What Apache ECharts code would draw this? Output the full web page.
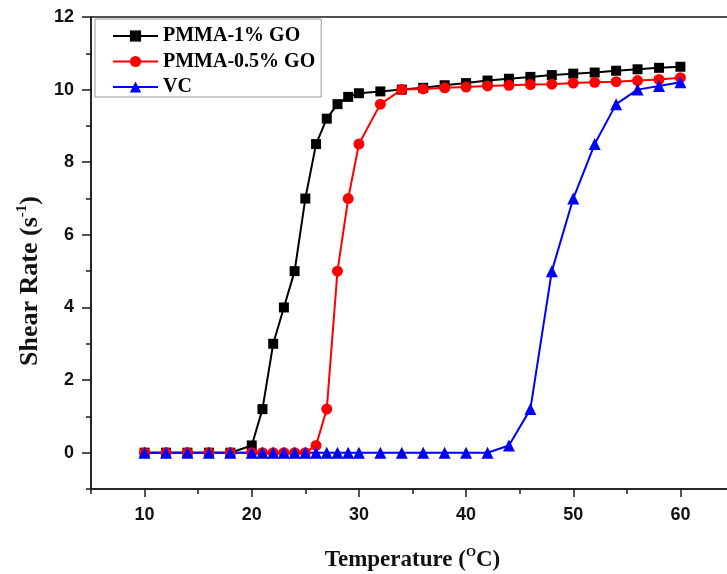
<!DOCTYPE html>
<html>
<head>
<meta charset="utf-8">
<script src="https://cdn.jsdelivr.net/npm/echarts@6/dist/echarts.min.js"></script>
<style>
html,body{margin:0;padding:0;background:#fff;}
#chart{width:727px;height:574px;}
</style>
</head>
<body>
<div id="chart"></div>
<script>
// Data
var temperature = [10,12,14,16,18,20,21,22,23,24,25,26,27,28,29,30,32,34,36,38,40,42,44,46,48,50,52,54,56,58,60];
var pmma1GO = [0,0,0,0,0,0.2,1.2,3,4,5,7,8.5,9.2,9.6,9.8,9.9,9.95,10,10.05,10.12,10.18,10.25,10.3,10.35,10.4,10.44,10.47,10.52,10.56,10.6,10.63];
var pmma05GO = [0,0,0,0,0,0,0,0,0,0,0,0.2,1.2,5,7,8.5,9.6,10,10.02,10.05,10.07,10.1,10.12,10.14,10.15,10.18,10.2,10.22,10.25,10.28,10.33];
var vc = [0,0,0,0,0,0,0,0,0,0,0,0,0,0,0,0,0,0,0,0,0,0,0.2,1.2,5,7,8.5,9.6,10,10.1,10.2];
var seriesNames = ['PMMA-1% GO','PMMA-0.5% GO','VC'];
var xLabels = [10,20,30,40,50,60];
var xMinorTicks = [5,15,25,35,45,55,65];
var yLabels = [0,2,4,6,8,10,12];
var yMinorTicks = [-1,1,3,5,7,9,11];

function pairs(ys){ return temperature.map(function(t,i){ return [t, ys[i]]; }); }

var sans = 'Liberation Sans, Arial, sans-serif';
var serif = 'Liberation Serif, Times New Roman, serif';
var axisColor = '#1a1a1a';

var chart = echarts.init(document.getElementById('chart'), null, {renderer:'canvas'});
chart.setOption({
  animation: false,
  backgroundColor: '#fff',
  grid: {left: 91, top: 17, right: -7, bottom: 85, containLabel: false, outerBoundsMode: 'none',
         show: true, borderColor: axisColor, borderWidth: 1.5, backgroundColor: 'transparent'},
  legend: {
    orient: 'vertical', left: 95, top: 19,
    data: seriesNames,
    itemWidth: 45, itemHeight: 14, itemGap: 5.5,
    padding: [7, 6, 0, 17],
    borderColor: '#999', borderWidth: 1,
    textStyle: {fontFamily: serif, fontWeight: 'bold', fontSize: 20, color: '#000', lineHeight: 20}
  },
  xAxis: [{
    type: 'value', min: 5, max: 65, position: 'bottom',
    axisLine: {show: true, onZero: false, lineStyle: {color: axisColor, width: 1.5}},
    axisTick: {show: true, customValues: xLabels, length: 8, lineStyle: {color: axisColor, width: 1.5}},
    axisLabel: {customValues: xLabels, margin: 17, fontFamily: sans, fontWeight: 'bold', fontSize: 18, color: '#111'},
    splitLine: {show: false},
    name: '{a|Temperature (}{s|O}{a|C)}',
    nameLocation: 'middle', nameGap: 57,
    nameTextStyle: {
      rich: {
        a: {fontFamily: serif, fontWeight: 'bold', fontSize: 23, color: '#111', lineHeight: 28},
        s: {fontFamily: serif, fontWeight: 'bold', fontSize: 13, color: '#111', lineHeight: 14, verticalAlign: 'top'}
      }
    }
  },{
    type: 'value', min: 5, max: 65, position: 'bottom',
    axisLine: {show: false, onZero: false},
    axisTick: {show: true, customValues: xMinorTicks, length: 5, lineStyle: {color: axisColor, width: 1.5}},
    axisLabel: {show: false},
    splitLine: {show: false}
  }],
  yAxis: [{
    type: 'value', min: -1, max: 12, position: 'left',
    axisLine: {show: true, onZero: false, lineStyle: {color: axisColor, width: 1.5}},
    axisTick: {show: true, customValues: yLabels, length: 9, lineStyle: {color: axisColor, width: 1.5}},
    axisLabel: {customValues: yLabels, margin: 17, fontFamily: sans, fontWeight: 'bold', fontSize: 18, color: '#111'},
    splitLine: {show: false},
    name: '{a|Shear Rate (s}{s|-1}{a|)}',
    nameLocation: 'middle', nameGap: 46, nameRotate: 90,
    nameTextStyle: {
      padding: [0, 56, 0, 0],
      rich: {
        a: {fontFamily: serif, fontWeight: 'bold', fontSize: 26, color: '#111', lineHeight: 30},
        s: {fontFamily: serif, fontWeight: 'bold', fontSize: 15, color: '#111', lineHeight: 15, verticalAlign: 'top'}
      }
    }
  },{
    type: 'value', min: -1, max: 12, position: 'left',
    axisLine: {show: false, onZero: false},
    axisTick: {show: true, customValues: yMinorTicks, length: 5, lineStyle: {color: axisColor, width: 1.5}},
    axisLabel: {show: false},
    splitLine: {show: false}
  }],
  series: [{
    name: seriesNames[0], type: 'line', xAxisIndex: 0, yAxisIndex: 0,
    data: pairs(pmma1GO), symbol: 'rect', symbolSize: 10,
    lineStyle: {color: '#000', width: 2}, itemStyle: {color: '#000'}
  },{
    name: seriesNames[1], type: 'line', xAxisIndex: 0, yAxisIndex: 0,
    data: pairs(pmma05GO), symbol: 'circle', symbolSize: 11,
    lineStyle: {color: '#ff0000', width: 2}, itemStyle: {color: '#ff0000'}
  },{
    name: seriesNames[2], type: 'line', xAxisIndex: 0, yAxisIndex: 0,
    data: pairs(vc), symbol: 'triangle', symbolSize: 12,
    lineStyle: {color: '#0000ff', width: 2}, itemStyle: {color: '#0000ff'}
  }]
});
</script>
</body>
</html>
